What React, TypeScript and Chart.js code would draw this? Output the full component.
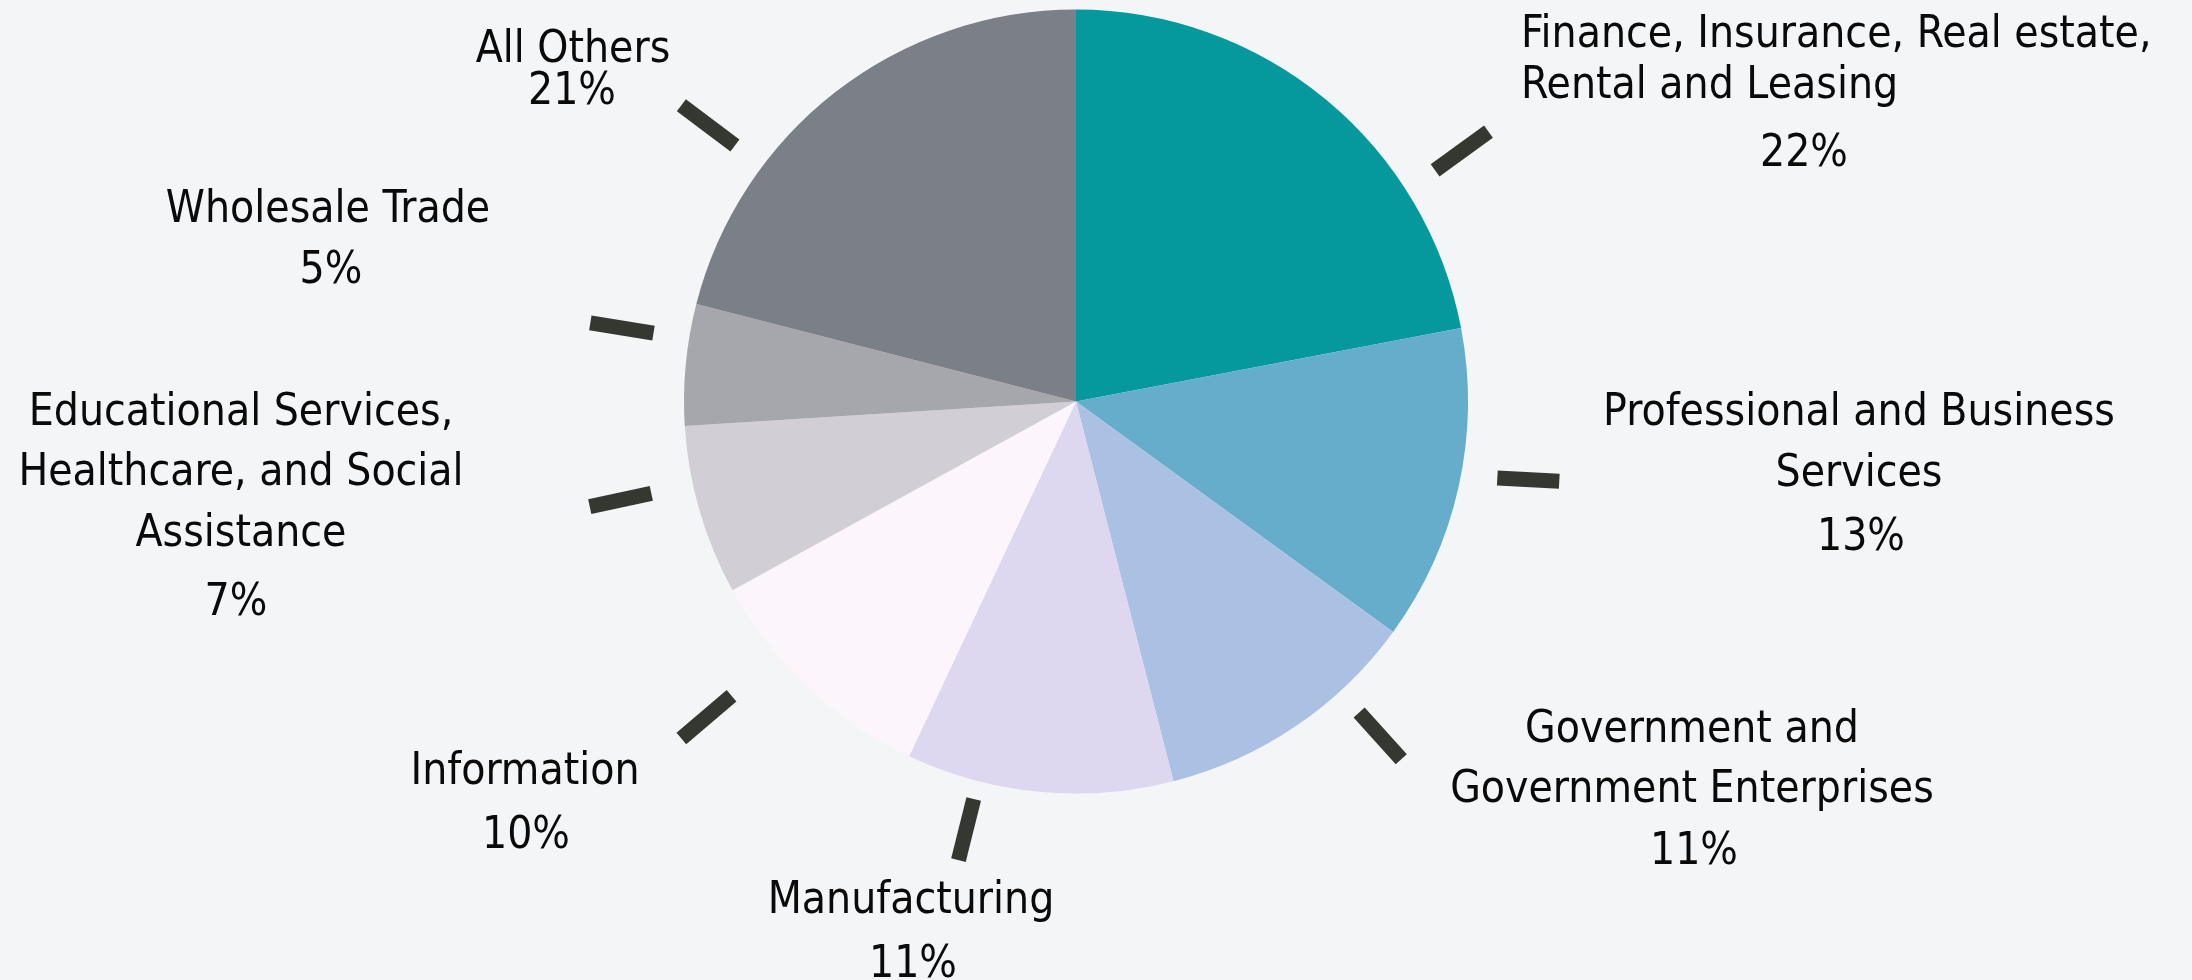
import { useEffect, useRef } from "react";
import { Chart, registerables } from "chart.js";

Chart.register(...registerables);

// ---- data ----
const categories: string[][] = [
  ["Finance, Insurance, Real estate,", "Rental and Leasing"],
  ["Professional and Business", "Services"],
  ["Government and", "Government Enterprises"],
  ["Manufacturing"],
  ["Information"],
  ["Educational Services,", "Healthcare, and Social", "Assistance"],
  ["Wholesale Trade"],
  ["All Others"],
];
const shares: number[] = [22, 13, 11, 11, 10, 7, 5, 21];

// ---- styles / layout ----
const sliceColors = [
  "#05989D",
  "#66ADCC",
  "#ABC1E3",
  "#DDD7EF",
  "#FDF5FC",
  "#D1CED6",
  "#A6A7AC",
  "#7B7F87",
];
const BG = "#F3F5F7";
const FONT = '44px "DejaVu Sans Condensed", "DejaVu Sans", sans-serif';
const TEXT_DY = 4;

// label text placement, offsets (px) from pie centre
const labelLayout = [
  { x: 445, align: "left", ys: [-370, -319], pctX: 728, pctY: -251 },
  { x: 783, align: "center", ys: [8, 69], pctX: 785, pctY: 133 },
  { x: 616, align: "center", ys: [325, 385], pctX: 618, pctY: 447 },
  { x: -165, align: "center", ys: [496], pctX: -163, pctY: 560 },
  { x: -551, align: "center", ys: [367], pctX: -550, pctY: 431 },
  { x: -835, align: "center", ys: [8, 68, 129], pctX: -840, pctY: 198 },
  { x: -748, align: "center", ys: [-195], pctX: -745, pctY: -134 },
  { x: -503, align: "center", ys: [-355], pctX: -504, pctY: -313 },
];
// leader ticks: position angle (deg clockwise from top) of the tick midpoint,
// mid radius, length, and stroke direction (deg clockwise from top)
const leaders = [
  { angle: 57, r: 460, len: 66, dir: 54 },
  { angle: 99.8, r: 459, len: 62, dir: 93 },
  { angle: 137.7, r: 452, len: 63, dir: 138 },
  { angle: 194.4, r: 442, len: 63, dir: 194 },
  { angle: 229.5, r: 486, len: 66, dir: 229.5 },
  { angle: 257.8, r: 466, len: 63, dir: 257.8 },
  { angle: 279.2, r: 460, len: 64, dir: 279.2 },
  { angle: 306.9, r: 460, len: 67, dir: 306.9 },
];
const BASE_R = 392;

const outsideLabels = {
  id: "outsideLabels",
  afterDatasetsDraw(chart: any) {
    const meta = chart.getDatasetMeta(0);
    const arc = meta.data[0] as any;
    if (!arc) return;
    const cx = arc.x;
    const cy = arc.y;
    const k = arc.outerRadius / BASE_R;
    const ctx: CanvasRenderingContext2D = chart.ctx;
    ctx.save();
    ctx.strokeStyle = "#353830";
    ctx.lineWidth = 15;
    ctx.lineCap = "butt";
    leaders.forEach((l) => {
      const a = ((l.angle - 90) * Math.PI) / 180;
      const d = ((l.dir - 90) * Math.PI) / 180;
      const mx = cx + Math.cos(a) * l.r * k;
      const my = cy + Math.sin(a) * l.r * k;
      const h = (l.len * k) / 2;
      ctx.beginPath();
      ctx.moveTo(mx - Math.cos(d) * h, my - Math.sin(d) * h);
      ctx.lineTo(mx + Math.cos(d) * h, my + Math.sin(d) * h);
      ctx.stroke();
    });
    ctx.font = FONT;
    ctx.fillStyle = "#0a0a0a";
    ctx.textBaseline = "middle";
    const labels = chart.data.labels as string[][];
    const values = chart.data.datasets[0].data as number[];
    labels.forEach((lines, i) => {
      const L = labelLayout[i];
      ctx.textAlign = L.align as CanvasTextAlign;
      lines.forEach((t, j) => {
        ctx.fillText(t, cx + L.x * k, cy + (L.ys[j] + TEXT_DY) * k);
      });
      ctx.textAlign = "center";
      ctx.fillText(`${values[i]}%`, cx + L.pctX * k, cy + (L.pctY + TEXT_DY) * k);
    });
    ctx.restore();
  },
};

export default function App() {
  const ref = useRef<HTMLCanvasElement | null>(null);
  useEffect(() => {
    document.body.style.margin = "0";
    document.body.style.background = BG;
    if (!ref.current) return;
    const chart = new Chart(ref.current, {
      type: "pie",
      data: {
        labels: categories,
        datasets: [
          {
            data: shares,
            backgroundColor: sliceColors,
            borderWidth: 0,
            hoverBorderWidth: 0,
            hoverOffset: 0,
          },
        ],
      },
      options: {
        animation: false,
        responsive: true,
        maintainAspectRatio: false,
        layout: { padding: { left: 684, right: 724, top: 9.5, bottom: 186.5 } },
        plugins: {
          legend: { display: false },
          tooltip: { enabled: false },
        },
        events: [],
      },
      plugins: [outsideLabels],
    });
    return () => chart.destroy();
  }, []);
  return (
    <div style={{ width: 2192, height: 980, background: BG, position: "relative" }}>
      <canvas ref={ref} />
    </div>
  );
}
